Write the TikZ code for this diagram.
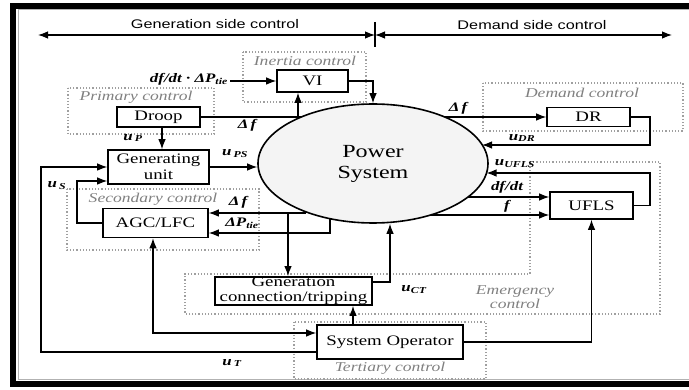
\documentclass[tikz,border=0pt]{standalone}
\usepackage{fontspec}
\setmainfont[FakeStretch=1.3]{Liberation Serif}
\setsansfont[FakeStretch=1.3]{Liberation Sans}
\usetikzlibrary{arrows.meta,shapes.geometric}

\tikzset{
  block/.style={draw, line width=1.6pt, inner sep=0pt, align=center, font=\fontsize{14.5}{15.5}\selectfont},
  region/.style={draw=gray!75, line width=1.2pt, dotted},
  regionlbl/.style={font=\fontsize{13.5}{14}\selectfont\itshape, text=gray, inner sep=0pt, align=center},
  lbl/.style={font=\fontsize{13}{14}\selectfont\bfseries\itshape, inner sep=0pt},
  sig/.style={line width=1.1pt, -{Latex[length=10pt,width=7.5pt]}},
  twosig/.style={line width=1.1pt, {Latex[length=10pt,width=7.5pt]}-{Latex[length=10pt,width=7.5pt]}},
}

\begin{document}
\begin{tikzpicture}[x=1pt, y=-1pt]
  \useasboundingbox (0,0) rectangle (689,390);

  % Frame
  \draw[gray!60, line width=1pt] (689,10) -- (18,10) -- (18,380) -- (689,380);
  \draw[line width=6pt] (689,6) -- (13,6) -- (13,384) -- (689,384);

  % Header: generation side / demand side
  \coordinate (hleft) at (38,35);
  \coordinate (hmid) at (375,35);
  \coordinate (hright) at (672,35);
  \coordinate (htop) at (375,22);
  \coordinate (hbot) at (375,47);
  \draw[line width=1.1pt] (htop) -- (hbot);
  \draw[twosig] (hleft) -- (hmid);
  \draw[twosig] (hmid) -- (hright);
  \node[font=\sffamily\fontsize{12.5}{13}\selectfont] (hgen) at (215,24) {Generation side control};
  \node[font=\sffamily\fontsize{12.5}{13}\selectfont] (hdem) at (532,25) {Demand side control};

  % Control regions (dotted)
  \draw[region] (243,52) rectangle (366,102);
  \draw[region] (68,88) rectangle (214,134);
  \draw[region] (483,83) rectangle (683,131);
  \draw[region] (67,189) rectangle (259,250);
  \draw[region] (530,162) -- (660,162) -- (660,314) -- (185,314) -- (185,274) -- (530,274) -- cycle;
  \draw[region] (294,322) rectangle (486,379);
  \node[regionlbl] (linertia) at (305,61) {Inertia control};
  \node[regionlbl] (lprimary) at (136,97) {Primary control};
  \node[regionlbl] (ldemand) at (582,93) {Demand control};
  \node[regionlbl] (lsecondary) at (153,199) {Secondary control};
  \node[regionlbl] (lemergency) at (515,297) {Emergency\\control};
  \node[regionlbl] (ltertiary) at (390,368) {Tertiary control};

  % Power system
  \node[ellipse, draw, line width=1.6pt, fill=gray!9, minimum width=230pt, minimum height=119pt,
        inner sep=0pt, align=center, font=\fontsize{18.5}{21}\selectfont] (ps) at (373,163.5) {Power\\System};

  % Blocks
  \node[block, minimum width=71pt, minimum height=22pt] (vi) at (312.5,81) {VI};
  \node[block, minimum width=83pt, minimum height=20pt] (droop) at (158.5,117) {Droop};
  \node[block, minimum width=101pt, minimum height=34pt] (gu) at (158.5,167) {Generating\\unit};
  \node[block, minimum width=105pt, minimum height=29pt] (agc) at (155.5,223) {AGC/LFC};
  \node[block, minimum width=83pt, minimum height=19pt] (dr) at (588.5,117) {DR};
  \node[block, minimum width=83pt, minimum height=27pt] (ufls) at (591.5,205.5) {UFLS};
  \node[block, minimum width=157pt, minimum height=28pt] (gc) at (293.5,291) {Generation\\connection/tripping};
  \node[block, minimum width=146pt, minimum height=34pt] (so) at (390,342) {System Operator};

  % Bend points and points on the power system border
  \coordinate (dfin) at (230,81);
  \coordinate (psdfL) at (301,117);
  \coordinate (vitap) at (298,117);
  \coordinate (psdfR) at (445,117);
  \coordinate (drx) at (650,145);
  \coordinate (psdr) at (482,145);
  \coordinate (uflsx) at (650,173);
  \coordinate (psufls) at (486.5,173);
  \coordinate (psdfdt) at (468,197);
  \coordinate (psf) at (431,215);
  \coordinate (psdfA) at (306,213);
  \coordinate (gctap) at (288,213);
  \coordinate (pstie) at (330,218.7);
  \coordinate (tieline) at (330,233);
  \coordinate (ctup) at (390,282);
  \coordinate (opx) at (353,0);
  \coordinate (agcx) at (153,333);
  \coordinate (tl) at (41,352);
  \coordinate (sl) at (77,181);
  \coordinate (droopx) at (162,0);

  % Inertia and primary control
  \draw[sig] (dfin) -- (vi.west);
  \draw[sig] (vi.east) -| (ps.north);
  \draw[line width=1.1pt] (psdfL) -- (droop.east);
  \draw[sig] (vitap) -- (vitap |- vi.south);
  \draw[sig] (droop.south -| droopx) -- (gu.north -| droopx);
  \draw[sig] (gu.east) -- (gu.east -| ps.west);

  % Secondary and tertiary loops
  \draw[sig] (so.west |- tl) -- (tl) |- (gu.west);
  \draw[sig] (agc.west) -| (sl) -- (sl -| gu.west);
  \draw[sig] (psdfA) -- (psdfA -| agc.east);
  \draw[sig] (gctap) -- (gctap |- gc.north);
  \draw[sig] (pstie) |- (tieline -| agc.east);
  \draw[twosig] (agc.south -| agcx) |- (agcx -| so.west);
  \draw[sig] (so.north -| opx) -- (gc.south -| opx);
  \draw[sig] (gc.east |- ctup) -- (ctup) -- (ctup |- ps.south);
  \draw[sig] (so.east) -| (ufls.south);

  % Demand and emergency control
  \draw[sig] (psdfR) -- (dr.west);
  \draw[sig] (dr.east) -| (drx) -- (psdr);
  \draw[sig] (ufls.east) -| (uflsx) -- (psufls);
  \draw[sig] (psdfdt) -- (psdfdt -| ufls.west);
  \draw[sig] (psf) -- (psf -| ufls.west);

  % Signal labels
  \node[lbl, anchor=east] (ldfin) at (228,79) {df/dt · ΔP\textsubscript{tie}};
  \node[lbl] (ldfL) at (247,125) {Δ\,f};
  \node[lbl] (lup) at (133,138) {u\,\textsubscript{P}};
  \node[lbl] (lups) at (235,154) {u\,\textsubscript{PS}};
  \node[lbl] (lus) at (57,186) {u\,\textsubscript{S}};
  \node[lbl] (lut) at (232,363) {u\,\textsubscript{T}};
  \node[lbl] (ldfA) at (238,202) {Δ\,f};
  \node[lbl] (ltie) at (242,223) {ΔP\textsubscript{tie}};
  \node[lbl] (lct) at (414,290) {u\textsubscript{CT}};
  \node[lbl] (ldfR) at (458,108) {Δ\,f};
  \node[lbl] (ludr) at (522,138) {u\textsubscript{DR}};
  \node[lbl] (luufls) at (515,164) {u\textsubscript{UFLS}};
  \node[lbl] (ldfdt) at (507,187) {df/dt};
  \node[lbl] (lf) at (507,206) {f};
\end{tikzpicture}
\end{document}
